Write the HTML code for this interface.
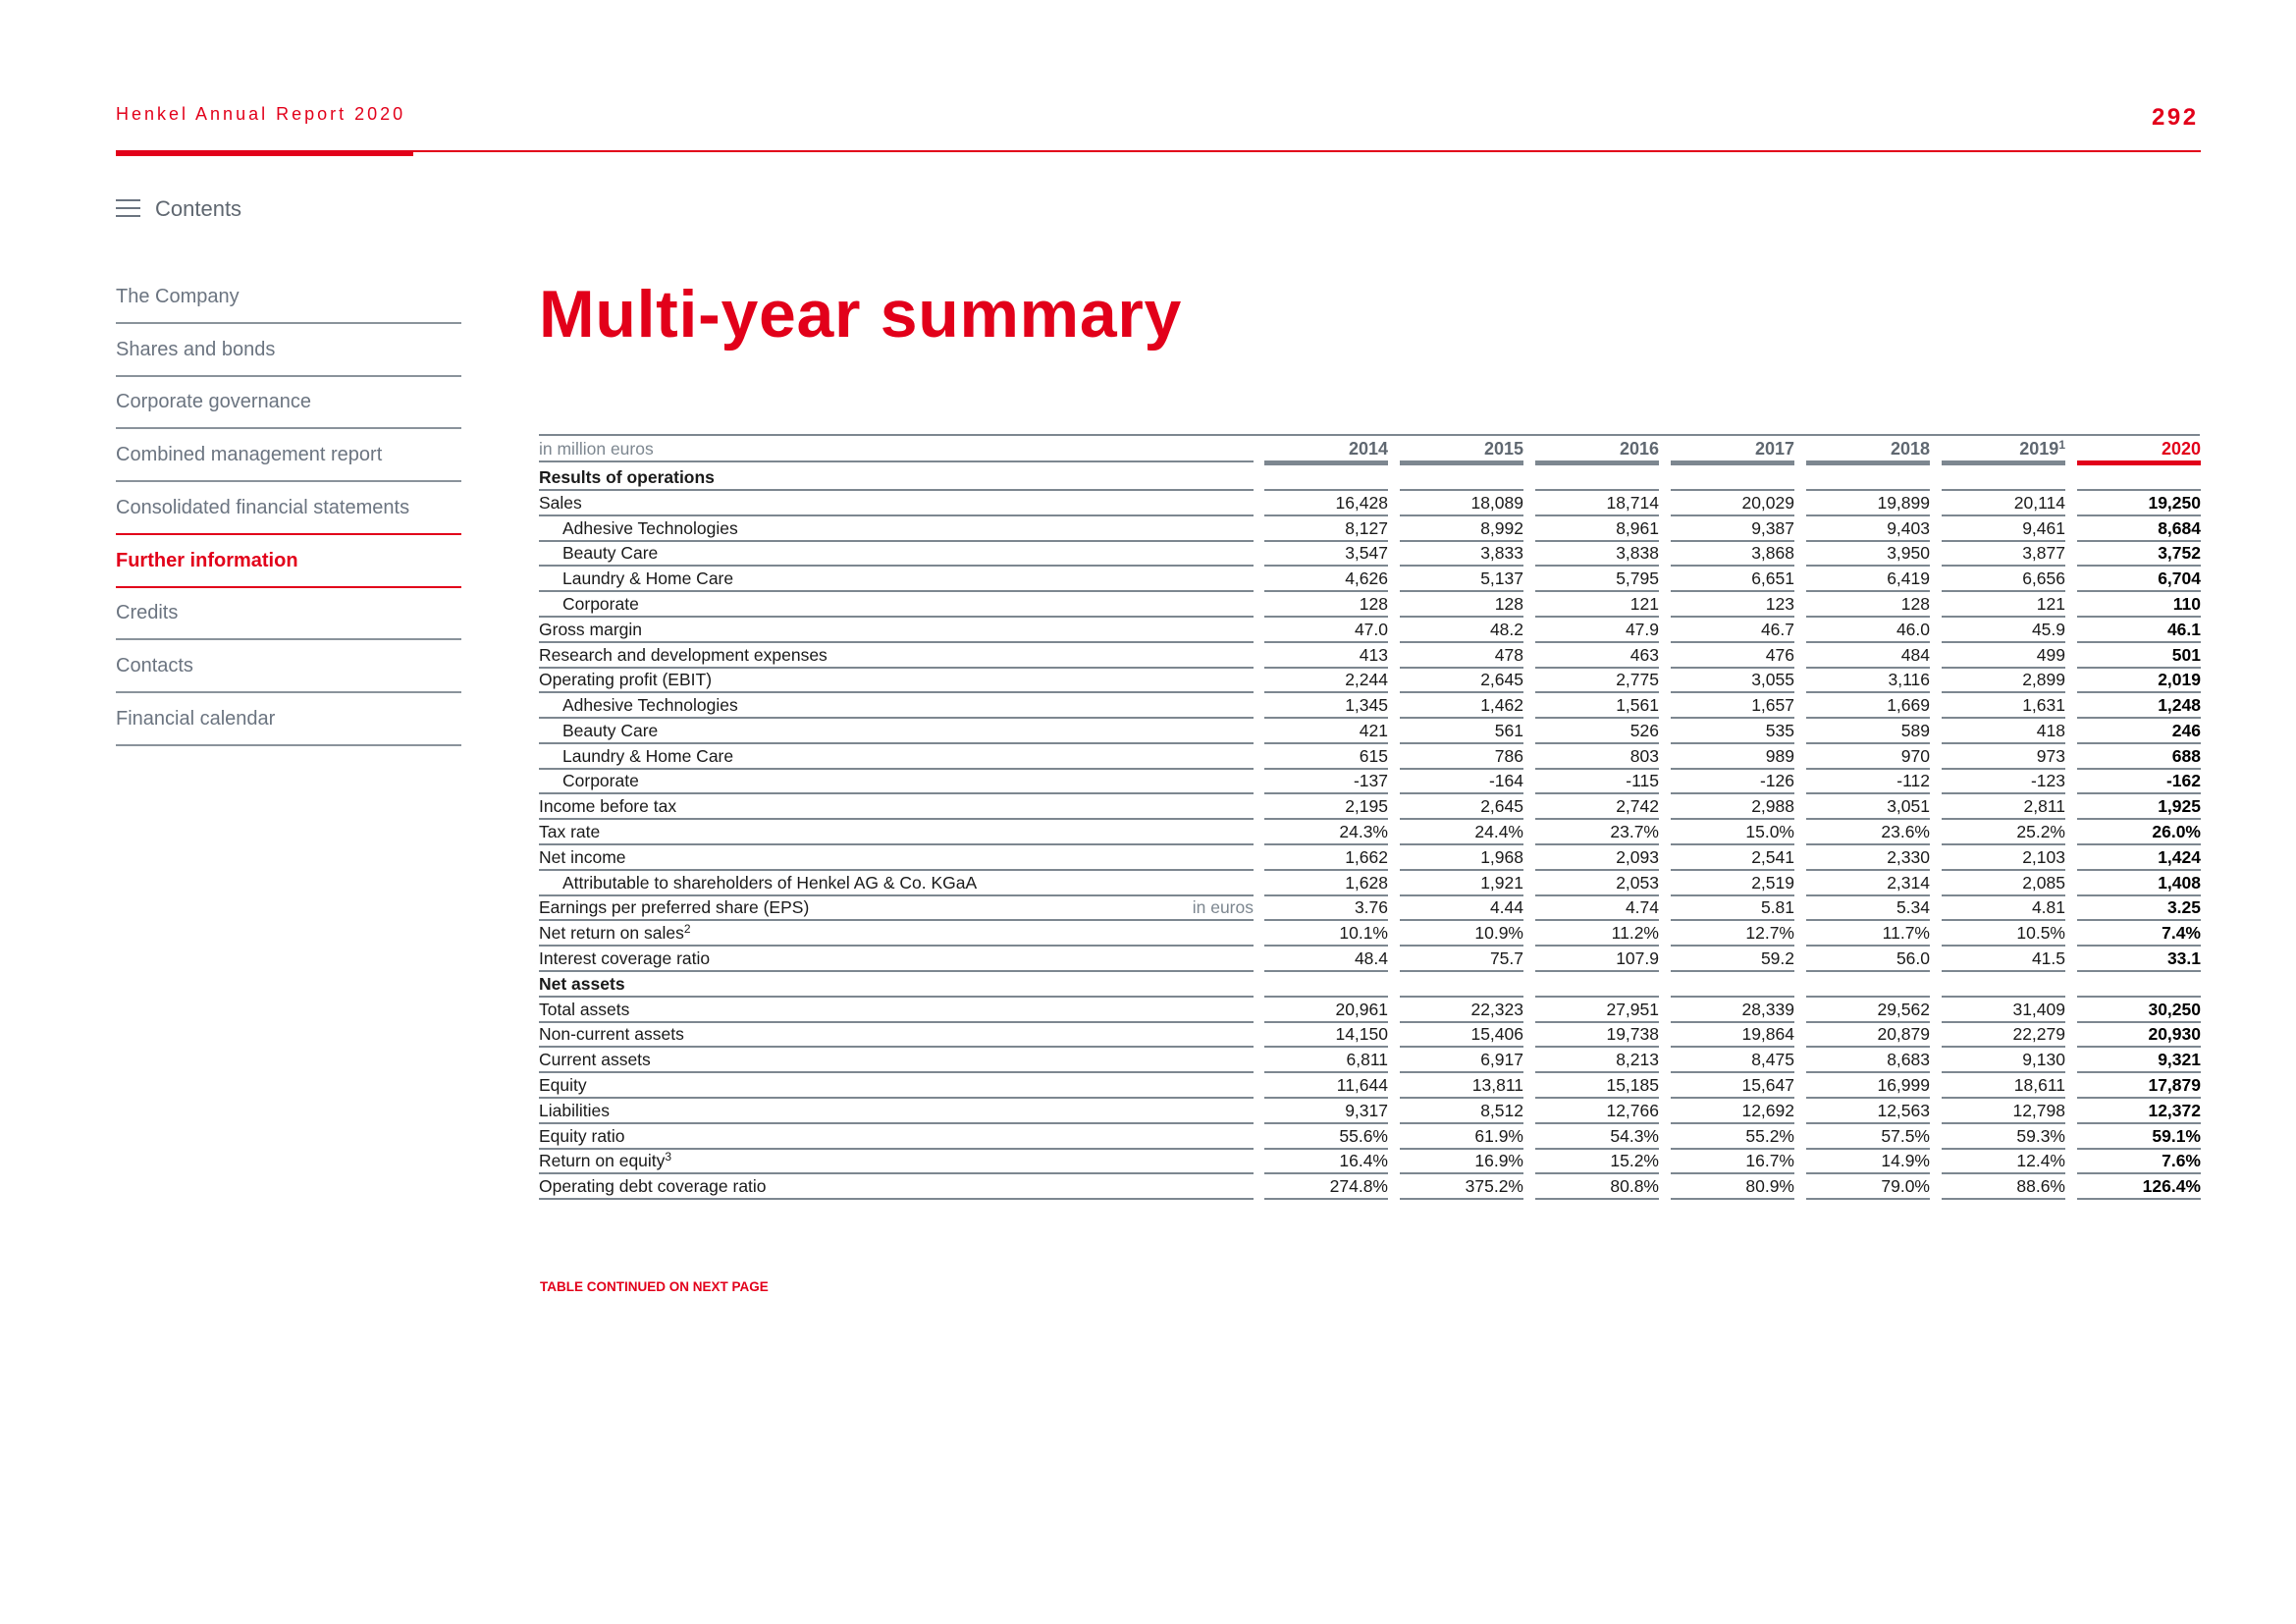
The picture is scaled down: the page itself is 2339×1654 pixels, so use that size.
<!DOCTYPE html>
<html><head><meta charset="utf-8">
<style>
html,body{margin:0;padding:0;background:#fff;}
body{width:2339px;height:1654px;position:relative;overflow:hidden;font-family:"Liberation Sans",sans-serif;}
.abs{position:absolute;white-space:nowrap;}
.nav{position:absolute;left:118px;width:352px;height:54px;}
.nav span{position:absolute;left:0;top:15px;font-size:20px;color:#6b7480;}
.nav i{position:absolute;left:0;right:0;bottom:0;height:2px;background:#8a939b;}
.cell{position:absolute;white-space:nowrap;line-height:20px;}
sup{font-size:12px;vertical-align:6px;line-height:0;}
</style></head><body>
<div class="abs" style="left:118px;top:106px;font-size:18px;letter-spacing:3px;color:#e2001a;">Henkel Annual Report 2020</div>
<div class="abs" style="left:2192px;top:106px;font-size:24px;font-weight:bold;letter-spacing:2.5px;color:#e2001a;">292</div>
<div class="abs" style="left:118px;top:153px;width:2124px;height:2px;background:#e2001a;"></div>
<div class="abs" style="left:118px;top:153px;width:303px;height:6px;background:#e2001a;"></div>

<div class="abs" style="left:118px;top:199px;width:160px;height:28px;">
  <div style="position:absolute;left:0;top:4px;width:25px;height:2px;background:#6b7480"></div>
  <div style="position:absolute;left:0;top:12px;width:25px;height:2px;background:#6b7480"></div>
  <div style="position:absolute;left:0;top:20px;width:25px;height:2px;background:#6b7480"></div>
  <span style="position:absolute;left:40px;top:1px;font-size:22px;color:#5f6770;">Contents</span>
</div>

<div id="navwrap"></div>

<div class="abs" style="left:549px;top:281px;font-size:68px;font-weight:bold;letter-spacing:0.7px;color:#e2001a;">Multi-year summary</div>

<div id="table"></div>

<div class="abs" style="left:550px;top:1303px;font-size:13.5px;font-weight:bold;color:#e2001a;">TABLE CONTINUED ON NEXT PAGE</div>

<script>
const navItems=["The Company","Shares and bonds","Corporate governance","Combined management report","Consolidated financial statements","Further information","Credits","Contacts","Financial calendar"];
const years=["2014","2015","2016","2017","2018","2019","2020"];
const yearSup=["","","","","","1",""];
const rowLabels=["Results of operations","Sales","Adhesive Technologies","Beauty Care","Laundry & Home Care","Corporate","Gross margin","Research and development expenses","Operating profit (EBIT)","Adhesive Technologies","Beauty Care","Laundry & Home Care","Corporate","Income before tax","Tax rate","Net income","Attributable to shareholders of Henkel AG & Co. KGaA","Earnings per preferred share (EPS)","Net return on sales²","Interest coverage ratio","Net assets","Total assets","Non-current assets","Current assets","Equity","Liabilities","Equity ratio","Return on equity³","Operating debt coverage ratio"];
const rowKind=["h","","s","s","s","s","","","","s","s","s","s","","","","s","","","","h","","","","","","","",""];
const v2014=["","16,428","8,127","3,547","4,626","128","47.0","413","2,244","1,345","421","615","-137","2,195","24.3%","1,662","1,628","3.76","10.1%","48.4","","20,961","14,150","6,811","11,644","9,317","55.6%","16.4%","274.8%"];
const v2015=["","18,089","8,992","3,833","5,137","128","48.2","478","2,645","1,462","561","786","-164","2,645","24.4%","1,968","1,921","4.44","10.9%","75.7","","22,323","15,406","6,917","13,811","8,512","61.9%","16.9%","375.2%"];
const v2016=["","18,714","8,961","3,838","5,795","121","47.9","463","2,775","1,561","526","803","-115","2,742","23.7%","2,093","2,053","4.74","11.2%","107.9","","27,951","19,738","8,213","15,185","12,766","54.3%","15.2%","80.8%"];
const v2017=["","20,029","9,387","3,868","6,651","123","46.7","476","3,055","1,657","535","989","-126","2,988","15.0%","2,541","2,519","5.81","12.7%","59.2","","28,339","19,864","8,475","15,647","12,692","55.2%","16.7%","80.9%"];
const v2018=["","19,899","9,403","3,950","6,419","128","46.0","484","3,116","1,669","589","970","-112","3,051","23.6%","2,330","2,314","5.34","11.7%","56.0","","29,562","20,879","8,683","16,999","12,563","57.5%","14.9%","79.0%"];
const v2019=["","20,114","9,461","3,877","6,656","121","45.9","499","2,899","1,631","418","973","-123","2,811","25.2%","2,103","2,085","4.81","10.5%","41.5","","31,409","22,279","9,130","18,611","12,798","59.3%","12.4%","88.6%"];
const v2020=["","19,250","8,684","3,752","6,704","110","46.1","501","2,019","1,248","246","688","-162","1,925","26.0%","1,424","1,408","3.25","7.4%","33.1","","30,250","20,930","9,321","17,879","12,372","59.1%","7.6%","126.4%"];
const series=[v2014,v2015,v2016,v2017,v2018,v2019,v2020];

const nav=document.getElementById('navwrap');
navItems.forEach((t,i)=>{
  const d=document.createElement('div');
  d.className='nav';
  d.style.top=(276+i*53.7)+'px';
  
  
  const red=(i===4||i===5);
  d.innerHTML='<span style="'+(i===5?'color:#e2001a;font-weight:bold;':'')+'">'+t+'</span><i style="'+(red?'background:#e2001a;':'')+'"></i>';
  nav.appendChild(d);
});

const T=document.getElementById('table');
const LX=549,LW=728,CX0=1288,CSTEP=138,CW=126;
const LINE=(x,y,w,h,c)=>{const e=document.createElement('div');e.className='abs';e.style.cssText='left:'+x+'px;top:'+y+'px;width:'+w+'px;height:'+h+'px;background:'+c;

T.appendChild(e);};
function colX(i){return CX0+i*CSTEP;}
function rowLine(i){return 498+i*25.79;}
LINE(LX,442,2241-LX,2,'#7d8790');
LINE(LX,469,LW,2,'#7d8790');
const hl=document.createElement('div');hl.className='cell';
hl.style.cssText+='left:'+LX+'px;top:447px;font-size:17.5px;color:#7d8790;';
hl.textContent='in million euros';


T.appendChild(hl);
years.forEach((y,i)=>{
  const e=document.createElement('div');e.className='cell';
  e.style.cssText+='left:'+colX(i)+'px;width:'+CW+'px;text-align:right;top:447px;font-size:18px;font-weight:bold;color:'+(i===6?'#e2001a':'#5f6770')+';';
  e.innerHTML=y+(yearSup[i]?'<sup>'+yearSup[i]+'</sup>':'');
  
  
  T.appendChild(e);
  LINE(colX(i),469,CW,5,i===6?'#e2001a':'#7d8790');
});
rowLabels.forEach((lab,r)=>{
  const ly=rowLine(r);
  const top=ly-22;
  const e=document.createElement('div');e.className='cell';
  const ind=rowKind[r]==='s'?24:0;
  e.style.cssText+='left:'+(LX+ind)+'px;top:'+top+'px;font-size:17.5px;color:#1a1a1a;'+(rowKind[r]==='h'?'font-weight:bold;':'');
  e.innerHTML=lab.replace('²','<sup>2</sup>').replace('³','<sup>3</sup>');
  
  
  T.appendChild(e);
  if(r===17){const u=document.createElement('div');u.className='cell';
    u.style.cssText+='left:'+LX+'px;width:'+LW+'px;text-align:right;top:'+top+'px;font-size:17.5px;color:#7d8790;';
    u.textContent='in euros';
    
    
    T.appendChild(u);}
  LINE(LX,ly,LW,2,'#7d8790');
  series.forEach((s,i)=>{
    LINE(colX(i),ly,CW,2,'#7d8790');
    if(!s[r])return;
    const c=document.createElement('div');c.className='cell';
    c.style.cssText+='left:'+colX(i)+'px;width:'+CW+'px;text-align:right;top:'+top+'px;font-size:17.5px;'+(i===6?'font-weight:bold;color:#000;':'color:#1a1a1a;');
    c.textContent=s[r];
    
    
    T.appendChild(c);
  });
});
</script>
</body></html>
